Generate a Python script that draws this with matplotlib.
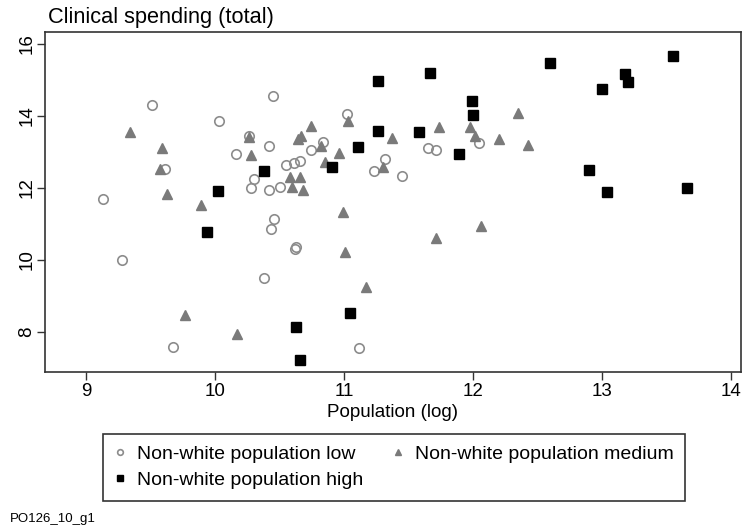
import matplotlib
matplotlib.use("Agg")
import matplotlib.pyplot as plt

plt.rcParams['font.family'] = ['Liberation Sans', 'DejaVu Sans']

# Non-white population low (hollow circles)
low_x = [9.13, 9.28, 9.51, 9.61, 9.67, 10.03, 10.16, 10.26, 10.28, 10.30, 10.38, 10.42,
         10.42, 10.43, 10.45, 10.46, 10.50, 10.55, 10.61, 10.62, 10.63, 10.66, 10.74,
         10.84, 11.02, 11.12, 11.23, 11.32, 11.45, 11.65, 11.71, 12.05]
low_y = [11.69, 10.00, 14.29, 12.52, 7.59, 13.86, 12.94, 13.45, 11.99, 12.25, 9.50, 13.17,
         11.94, 10.85, 14.56, 11.14, 12.02, 12.64, 12.69, 10.30, 10.35, 12.75, 13.04,
         13.27, 14.06, 7.56, 12.48, 12.81, 12.34, 13.10, 13.04, 13.26]

# Non-white population medium (grey triangles)
med_x = [9.34, 9.59, 9.57, 9.63, 9.77, 9.89, 10.17, 10.26, 10.28, 10.58, 10.60, 10.64,
         10.66, 10.67, 10.68, 10.74, 10.82, 10.85, 10.96, 10.99, 11.01, 11.03, 11.17,
         11.30, 11.37, 11.71, 11.74, 11.98, 12.02, 12.06, 12.20, 12.35, 12.43]
med_y = [13.55, 13.12, 12.52, 11.82, 8.47, 11.54, 7.94, 13.42, 12.92, 12.30, 12.02, 13.36,
         12.31, 13.44, 11.94, 13.72, 13.16, 12.72, 12.96, 11.34, 10.21, 13.87, 9.24,
         12.59, 13.40, 10.60, 13.70, 13.70, 13.44, 10.94, 13.35, 14.07, 13.19]

# Non-white population high (black squares)
high_x = [9.94, 10.02, 10.38, 10.63, 10.66, 10.91, 11.05, 11.11, 11.26, 11.26, 11.58, 11.67,
          11.89, 11.99, 12.00, 12.60, 12.90, 13.00, 13.04, 13.18, 13.20, 13.55, 13.66]
high_y = [10.77, 11.91, 12.48, 8.15, 7.21, 12.57, 8.52, 13.14, 14.97, 13.57, 13.56, 15.19,
          12.94, 14.42, 14.03, 15.48, 12.50, 14.74, 11.88, 15.17, 14.93, 15.65, 11.99]

labels = ["Non-white population low", "Non-white population medium", "Non-white population high"]
xticks = [9, 10, 11, 12, 13, 14]
yticks = [8, 10, 12, 14, 16]

fig = plt.figure(figsize=(7.44, 5.31), dpi=100)
ax = fig.add_axes([45/744, 1-372/531, (741-45)/744, (372-32)/531])

h_low, = ax.plot(low_x, low_y, linestyle='none', marker='o', markersize=6.8,
                 markerfacecolor='none', markeredgecolor='#8c8c8c', markeredgewidth=1.2)
h_med, = ax.plot(med_x, med_y, linestyle='none', marker='^', markersize=7.5,
                 markerfacecolor='#7a7a7a', markeredgecolor='#7a7a7a')
h_high, = ax.plot(high_x, high_y, linestyle='none', marker='s', markersize=7,
                  markerfacecolor='black', markeredgecolor='black')

ax.set_xlim(8.68, 14.08)
ax.set_ylim(6.89, 16.33)
ax.set_xticks(xticks)
ax.set_yticks(yticks)
ax.tick_params(axis='both', direction='out', length=6, width=1, color='#333333',
               labelsize=13.5)
ax.tick_params(axis='x', pad=2)
ax.tick_params(axis='y', labelrotation=90, pad=1)
for lab in ax.get_yticklabels():
    lab.set_va('center')
for s in ax.spines.values():
    s.set_linewidth(1.2)
    s.set_color('#333333')
ax.set_xlabel("Population (log)", fontsize=13.5, labelpad=3)

fig.text(48/744, 1-17/531, "Clinical spending (total)", fontsize=15.7, ha='left', va='center')
fig.text(10/744, 1-519/531, "PO126_10_g1", fontsize=9.5, ha='left', va='center')

leg = fig.legend([h_low, h_high, h_med], [labels[0], labels[2], labels[1]], ncol=2,
                 loc='upper left', bbox_to_anchor=(103/744, 1-434/531),
                 borderaxespad=0, fontsize=14, markerscale=0.6,
                 frameon=True, fancybox=False, edgecolor='black', handlelength=0.6,
                 handletextpad=0.55, labelspacing=0.42, borderpad=0.6, columnspacing=1.5)
leg.get_frame().set_linewidth(1.2)

fig.savefig("out.png", dpi=100)
